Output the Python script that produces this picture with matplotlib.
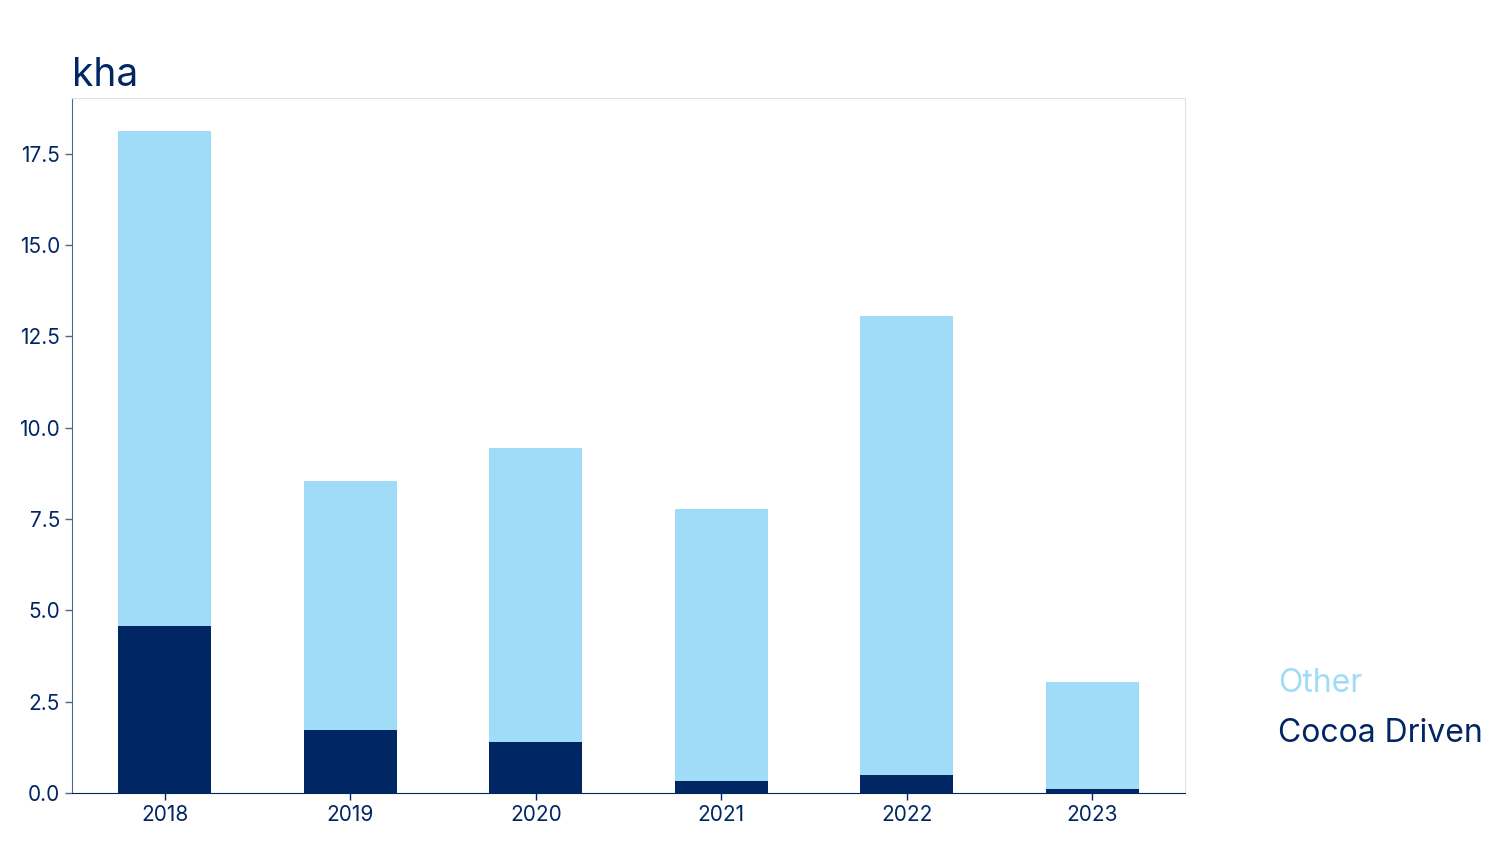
import matplotlib
matplotlib.use("Agg")
import matplotlib.pyplot as plt

plt.rcParams['font.family'] = ['Inter', 'DejaVu Sans']

years = ['2018', '2019', '2020', '2021', '2022', '2023']
cocoa_driven = [4.57, 1.73, 1.40, 0.33, 0.49, 0.11]
total = [18.13, 8.55, 9.45, 7.78, 13.06, 3.04]
other = [t - c for t, c in zip(total, cocoa_driven)]

navy = '#002663'
light = '#a0dcf8'

fig = plt.figure(figsize=(15, 8.44), dpi=100)
ax = fig.add_axes([72 / 1500, 1 - 793 / 844, (1185 - 72) / 1500, (793 - 98) / 844])

x = range(len(years))
ax.bar(x, cocoa_driven, width=0.5, color=navy, label='Cocoa Driven')
ax.bar(x, other, width=0.5, bottom=cocoa_driven, color=light, label='Other')

ax.set_xlim(-0.5, 5.5)
ax.set_ylim(0, 19.03)
ax.set_xticks(list(x))
ax.set_xticklabels(years)
ax.set_yticks([0, 2.5, 5, 7.5, 10, 12.5, 15, 17.5])
ax.set_yticklabels(['0.0', '2.5', '5.0', '7.5', '10.0', '12.5', '15.0', '17.5'])
ax.tick_params(colors=navy, labelsize=15, length=5, width=1)
ax.tick_params(axis='y', colors='#4a6a8a', labelcolor=navy)

ax.spines['left'].set_color('#4a6a8a')
ax.spines['bottom'].set_color(navy)
ax.spines['top'].set_color('#dde3e8')
ax.spines['right'].set_color('#dde3e8')

fig.text(72 / 1500, 1 - 75 / 844, 'kha', fontsize=28, color=navy, va='center', ha='left')

# legend as coloured text
fig.text(1278 / 1500, 1 - 683 / 844, 'Other', fontsize=23, color=light, va='center', ha='left')
fig.text(1278 / 1500, 1 - 733 / 844, 'Cocoa Driven', fontsize=23, color=navy, va='center', ha='left')

plt.savefig('out.png')
